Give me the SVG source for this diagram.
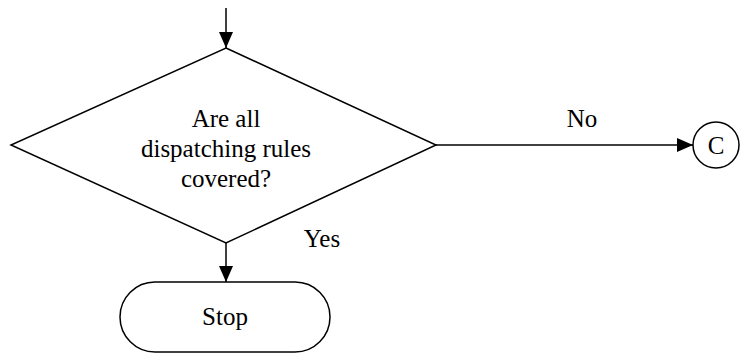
<svg xmlns="http://www.w3.org/2000/svg" width="750" height="354" viewBox="0 0 750 354">
<style>
.s{fill:#fff;stroke:#000;stroke-width:1.5}
.c{fill:none;stroke:#000;stroke-width:1.5}
text{font-family:"Liberation Serif","Times New Roman",serif;font-size:25px;fill:#000;text-anchor:middle}
</style>
<defs>
<marker id="a" markerWidth="16" markerHeight="14" refX="16" refY="7" orient="auto" markerUnits="userSpaceOnUse">
<path d="M0,0 L16,7 L0,14 Z" fill="#000"/>
</marker>
</defs>
<g id="connectors">
<line class="c" x1="226" y1="8" x2="226" y2="48" marker-end="url(#a)"/>
<line class="c" x1="436" y1="145" x2="693" y2="145" marker-end="url(#a)"/>
<line class="c" x1="226" y1="243" x2="226" y2="282" marker-end="url(#a)"/>
<text x="582" y="127">No</text>
<text x="322" y="247">Yes</text>
</g>
<g id="decision">
<polygon class="s" points="226,48 436,145 226,243 11,145"/>
<text x="226" y="127">Are all</text>
<text x="226" y="157">dispatching rules</text>
<text x="226" y="187">covered?</text>
</g>
<g id="connectorC">
<circle class="s" cx="716" cy="145" r="23"/>
<text x="716" y="154">C</text>
</g>
<g id="stop">
<rect class="s" x="120" y="282" width="210" height="70" rx="35" ry="35"/>
<text x="225" y="325">Stop</text>
</g>
</svg>
